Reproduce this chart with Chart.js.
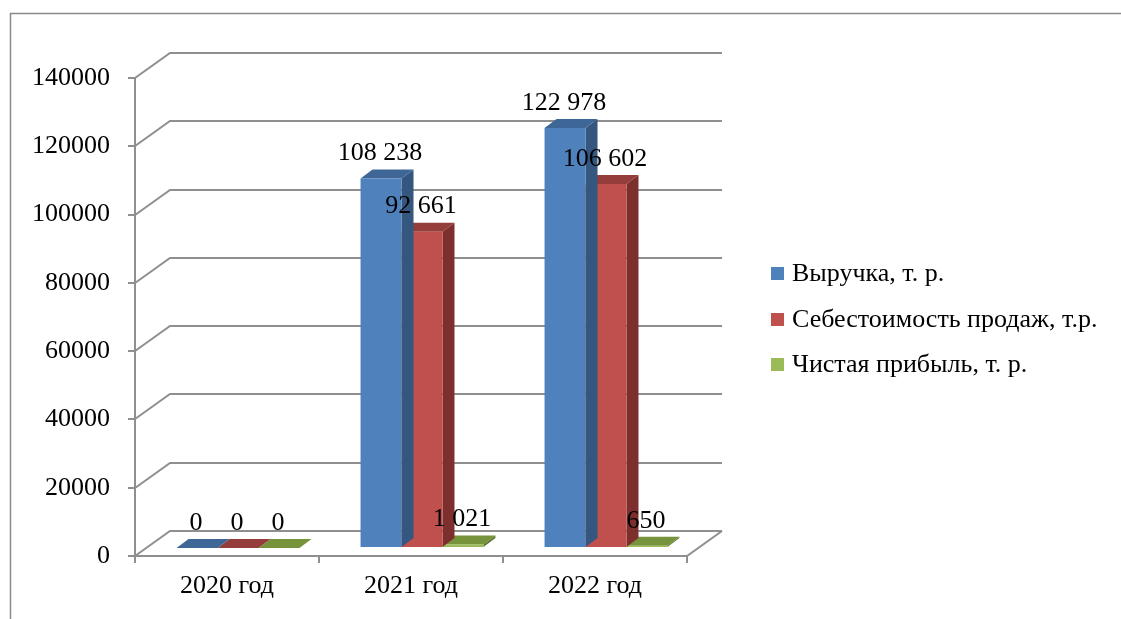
<!DOCTYPE html>
<html>
<head>
<meta charset="utf-8">
<script src="https://cdn.jsdelivr.net/npm/chart.js@4.4.1/dist/chart.umd.min.js"></script>
<style>
  html, body { margin: 0; padding: 0; background: #ffffff; }
  #wrap { width: 1121px; height: 619px; }
</style>
</head>
<body>
<div id="wrap"><canvas id="c" width="1121" height="619"></canvas></div>
<script>
// Categories, series and axis ticks
const categories = ['2020 год', '2021 год', '2022 год'];
const seriesNames = ['Выручка, т. р.', 'Себестоимость продаж, т.р.', 'Чистая прибыль, т. р.'];
const revenue = [0, 108238, 122978];
const costOfSales = [0, 92661, 106602];
const netProfit = [0, 1021, 650];
const yTickValues = [0, 20000, 40000, 60000, 80000, 100000, 120000, 140000];

// Face colours of the 3D columns
const frontColors = ['#4F81BD', '#C0504D', '#9BBB59'];
const topColors = ['#3E6798', '#943D3B', '#77933C'];
const sideColors = ['#34567F', '#7C2F2D', '#5F7730'];

const FONT = '"Liberation Serif", "Times New Roman", serif';
const GRID = '#8f8f8f';

// Perspective: full depth of the plot box and the column slab inside it
const DEPTH_X = 35, DEPTH_Y = 25;      // back wall offset
const BAR_OX = 11, BAR_OY = 8;         // column front face offset
const BAR_DX = 12, BAR_DY = 9;         // column depth

function fmt(v) {
  return String(v).replace(/\B(?=(\d{3})+(?!\d))/g, ' ');
}

function barBox(el) {
  const p = el.getProps(['x', 'y', 'base', 'width'], true);
  const left = p.x - p.width / 2 + BAR_OX;
  const right = p.x + p.width / 2 + BAR_OX;
  const top = Math.min(p.y, p.base) - BAR_OY;
  const bottom = Math.max(p.y, p.base) - BAR_OY;
  return { left, right, top, bottom, cx: p.x + BAR_OX };
}

function poly(ctx, pts, fill) {
  ctx.beginPath();
  ctx.moveTo(pts[0][0], pts[0][1]);
  for (let i = 1; i < pts.length; i++) ctx.lineTo(pts[i][0], pts[i][1]);
  ctx.closePath();
  ctx.fillStyle = fill;
  ctx.fill();
}

const depthPlugin = {
  id: 'depth3d',
  beforeDraw(chart) {
    const ctx = chart.ctx;
    ctx.save();
    ctx.fillStyle = '#ffffff';
    ctx.fillRect(0, 0, chart.width, chart.height);
    // outer frame
    ctx.strokeStyle = '#8a8a8a';
    ctx.lineWidth = 1.5;
    ctx.beginPath();
    ctx.moveTo(10.5, chart.height);
    ctx.lineTo(10.5, 13.5);
    ctx.lineTo(chart.width, 13.5);
    ctx.stroke();
    ctx.restore();
  },
  beforeDatasetsDraw(chart) {
    const ctx = chart.ctx;
    const a = chart.chartArea;
    const ys = chart.scales.y;
    ctx.save();
    ctx.strokeStyle = GRID;
    ctx.lineWidth = 2;
    ctx.lineJoin = 'miter';
    // back wall gridlines with the side-wall diagonals
    yTickValues.forEach(v => {
      const y = Math.round(ys.getPixelForValue(v));
      ctx.beginPath();
      ctx.moveTo(a.left, y);
      ctx.lineTo(a.left + DEPTH_X, y - DEPTH_Y);
      ctx.lineTo(a.right + DEPTH_X, y - DEPTH_Y);
      ctx.stroke();
    });
    // floor
    const b = Math.round(a.bottom);
    ctx.beginPath();
    ctx.moveTo(a.left, b);
    ctx.lineTo(a.right, b);
    ctx.lineTo(a.right + DEPTH_X, b - DEPTH_Y);
    ctx.stroke();
    ctx.restore();
  },
  beforeDatasetDraw(chart, args) {
    const ctx = chart.ctx;
    const i = args.index;
    ctx.save();
    args.meta.data.forEach(el => {
      const r = barBox(el);
      // side face
      poly(ctx, [[r.right, r.top], [r.right + BAR_DX, r.top - BAR_DY],
                 [r.right + BAR_DX, r.bottom - BAR_DY], [r.right, r.bottom]], sideColors[i]);
      // top face
      poly(ctx, [[r.left, r.top], [r.right, r.top],
                 [r.right + BAR_DX, r.top - BAR_DY], [r.left + BAR_DX, r.top - BAR_DY]], topColors[i]);
    });
    ctx.restore();
    // the front faces are drawn by the library on the column plane
    ctx.save();
    ctx.translate(BAR_OX, -BAR_OY);
  },
  afterDatasetDraw(chart) {
    chart.ctx.restore();
  },
  afterDatasetsDraw(chart) {
    const ctx = chart.ctx;
    ctx.save();
    ctx.font = '26px ' + FONT;
    ctx.fillStyle = '#000000';
    ctx.textAlign = 'center';
    ctx.textBaseline = 'middle';
    chart.data.datasets.forEach((ds, i) => {
      chart.getDatasetMeta(i).data.forEach((el, j) => {
        const r = barBox(el);
        ctx.fillText(fmt(ds.data[j]), r.cx - 1, r.top - 25);
      });
    });
    ctx.restore();
  },
  afterDraw(chart) {
    const ctx = chart.ctx;
    ctx.save();
    ctx.font = '26px ' + FONT;
    ctx.textBaseline = 'middle';
    ctx.textAlign = 'left';
    const rows = [273, 319, 364];
    chart.data.datasets.forEach((ds, i) => {
      ctx.fillStyle = frontColors[i];
      ctx.fillRect(771, rows[i] - 6, 13, 13);
      ctx.fillStyle = '#000000';
      ctx.fillText(ds.label, 792, rows[i] + 1);
    });
    ctx.restore();
  }
};

const makeSet = (label, data, i) => ({
  label, data,
  backgroundColor: frontColors[i],
  borderWidth: 0,
  categoryPercentage: 0.668,
  barPercentage: 1,
  clip: false
});

new Chart(document.getElementById('c'), {
  type: 'bar',
  data: {
    labels: categories,
    datasets: [
      makeSet(seriesNames[0], revenue, 0),
      makeSet(seriesNames[1], costOfSales, 1),
      makeSet(seriesNames[2], netProfit, 2)
    ]
  },
  options: {
    responsive: false,
    animation: false,
    devicePixelRatio: 1,
    layout: { padding: { left: 0, top: 78, right: 434, bottom: 0 } },
    plugins: { legend: { display: false }, tooltip: { enabled: false } },
    scales: {
      x: {
        type: 'category',
        offset: true,
        grid: { offset: true, drawOnChartArea: false, drawTicks: true, tickLength: 7, color: GRID, lineWidth: 2 },
        border: { display: true, color: GRID, width: 2 },
        ticks: { font: { family: FONT, size: 26 }, color: '#000000', padding: 8, maxRotation: 0 },
        afterFit(s) { s.height = 63; }
      },
      y: {
        min: 0,
        max: 140000,
        afterBuildTicks(s) { s.ticks = yTickValues.map(v => ({ value: v })); },
        grid: { drawOnChartArea: false, drawTicks: true, tickLength: 7, color: GRID, lineWidth: 2 },
        border: { display: true, color: GRID, width: 2 },
        ticks: { font: { family: FONT, size: 26 }, color: '#000000', padding: 18, callback: v => String(v) },
        afterFit(s) { s.width = 135; }
      }
    }
  },
  plugins: [depthPlugin]
});
</script>
</body>
</html>
